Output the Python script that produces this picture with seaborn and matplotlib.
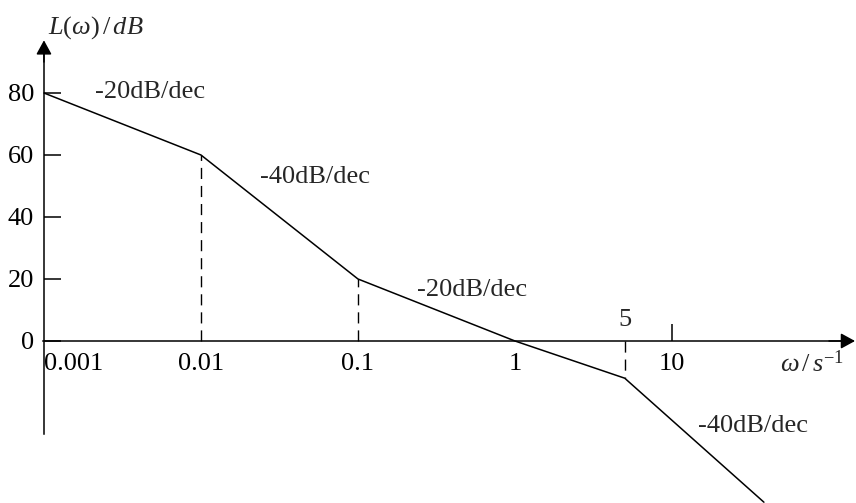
import numpy as np
import pandas as pd
import matplotlib
matplotlib.use("Agg")
import matplotlib.pyplot as plt
import seaborn as sns

# ---- data ----
omega = [0.001, 0.01, 0.1, 1, 5, 38.5]
gain_db = [80, 60, 20, 0, -12, -52]
break_omega = [0.01, 0.1, 5]
break_gain = [60, 20, -12]
slope_labels = ["-20dB/dec", "-40dB/dec", "-20dB/dec", "-40dB/dec"]
slope_label_pos_x = [0.00211, 0.0238, 0.2376, 14.6]
slope_label_pos_y = [80.3, 52.9, 16.5, -27.4]
xtick_vals = [0.001, 0.01, 0.1, 1, 10]
xtick_labels = ["0.001", "0.01", "0.1", "1", "10"]
ytick_vals = [0, 20, 40, 60, 80]
ytick_labels = ["0", "20", "40", "60", "80"]

sns.set_style("white")
plt.rcParams["font.family"] = ["Liberation Serif", "DejaVu Serif"]
plt.rcParams["mathtext.fontset"] = "custom"
plt.rcParams["mathtext.rm"] = "Liberation Serif"
plt.rcParams["mathtext.it"] = "Liberation Serif:italic"

FS = 19

fig = plt.figure(figsize=(8.56, 5.03), dpi=100)
ax = fig.add_axes([0, 0, 1, 1])
ax.set_xscale("log")
ax.set_xlim(10 ** -3.280, 10 ** 2.172)
ax.set_ylim(-52.26, 110)

df = pd.DataFrame({"omega": omega, "L": gain_db})
sns.lineplot(data=df, x="omega", y="L", sort=False, estimator=None,
             color="black", lw=1.1, ax=ax)

# dashed drop lines at the break frequencies
for w, g in zip(break_omega, break_gain):
    ax.plot([w, w], [0, g], color="black", lw=1.0, linestyle=(0, (8, 5)))

# spines as axes through origin
for s in ["top", "right"]:
    ax.spines[s].set_visible(False)
ax.spines["left"].set_position(("data", 0.001))
ax.spines["bottom"].set_position(("data", 0))
ax.spines["left"].set_bounds(-30, 96)
ax.spines["bottom"].set_bounds(0.000985, 140)
for s in ["left", "bottom"]:
    ax.spines[s].set_color("black")
    ax.spines[s].set_linewidth(1.1)

# arrows
ax.annotate("", xy=(0.001, 97), xytext=(0.001, 90),
            arrowprops=dict(arrowstyle="-|>,head_length=0.86,head_width=0.47",
                            color="black", lw=1.1, shrinkA=0, shrinkB=0))
ax.annotate("", xy=(146.5, 0), xytext=(100, 0),
            arrowprops=dict(arrowstyle="-|>,head_length=0.86,head_width=0.47",
                            color="black", lw=1.1, shrinkA=0, shrinkB=0))

ax.set_yticks(ytick_vals)
ax.set_yticklabels(ytick_labels)
ax.tick_params(axis="y", left=True, direction="in", length=12, width=1.1, pad=7,
               labelsize=FS, colors="black")

ax.set_xticks(xtick_vals)
ax.set_xticklabels(xtick_labels)
ax.xaxis.set_minor_locator(matplotlib.ticker.NullLocator())
ax.tick_params(axis="x", which="major", bottom=True, direction="in", length=12,
               width=1.1, pad=9, labelsize=FS, colors="black")
# only the tick at 10 is drawn as a mark above the axis
for val, tk in zip(xtick_vals, ax.xaxis.get_major_ticks()):
    if val != 10:
        tk.tick1line.set_visible(False)
lbls = ax.get_xticklabels()
lbls[0].set_horizontalalignment("left")

ax.text(5, 6.8, "5", fontsize=FS, ha="center", va="center")

for t, x, y in zip(slope_labels, slope_label_pos_x, slope_label_pos_y):
    ax.text(x, y, t, fontsize=FS, ha="left", va="center")

ax.text(0.00106, 101, r"$L(\omega)\,/\,dB$", fontsize=FS, ha="left", va="center")
ax.text(48.7, -7.4, r"$\omega\,/\,s^{-1}$", fontsize=FS, ha="left", va="center")

ax.set_xlabel("")
ax.set_ylabel("")
ax.patch.set_alpha(0)

fig.savefig("out.png", dpi=100)
